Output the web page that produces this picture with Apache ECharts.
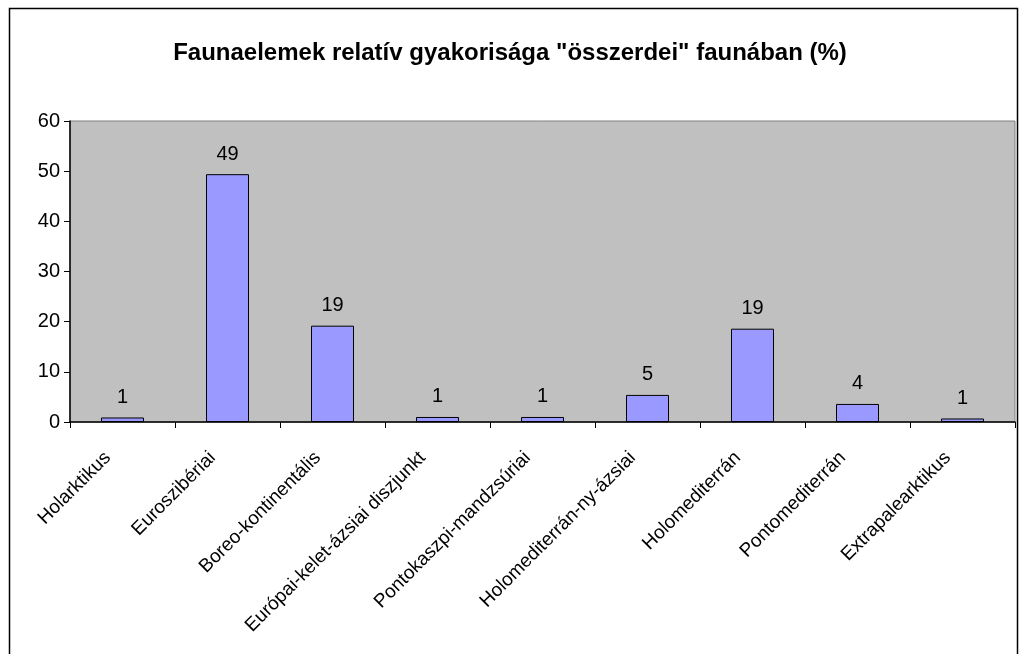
<!DOCTYPE html>
<html><head><meta charset="utf-8">
<script src="https://cdn.jsdelivr.net/npm/echarts@6/dist/echarts.min.js"></script>
<style>html,body{margin:0;padding:0;background:#fff}#c{width:1020px;height:654px}</style>
</head><body><div id="c"></div>
<script>
const titleText = 'Faunaelemek relatív gyakorisága "összerdei" faunában (%)';
const categories = ['Holarktikus','Euroszibériai','Boreo-kontinentális','Európai-kelet-ázsiai diszjunkt','Pontokaszpi-mandzsúriai','Holomediterrán-ny-ázsiai','Holomediterrán','Pontomediterrán','Extrapalearktikus'];
const values = [0.9, 49.4, 19.2, 1.0, 1.0, 5.4, 18.6, 3.6, 0.7];
const yTicks = [0, 10, 20, 30, 40, 50, 60];

const font = '"Liberation Sans", Arial, sans-serif';
const chart = echarts.init(document.getElementById('c'), null, {renderer:'canvas'});
chart.setOption({
  animation:false,
  backgroundColor:'#fff',
  title:{text:titleText,left:'center',top:36,textStyle:{fontFamily:font,fontWeight:'bold',fontSize:24,color:'#000'}},
  graphic:[{type:'rect',shape:{x:9.5,y:8.5,width:1008,height:660},style:{fill:null,stroke:'#000',lineWidth:1.5},silent:true}],
  grid:{left:70,right:5,top:121,bottom:232,show:true,backgroundColor:'#C0C0C0',borderColor:'#808080',borderWidth:1},
  xAxis:{type:'category',data:categories,boundaryGap:true,
    axisLine:{lineStyle:{color:'#000',width:1.5}},
    axisTick:{show:true,inside:false,length:6,alignWithLabel:false,lineStyle:{color:'#000'}},
    axisLabel:{rotate:45,interval:0,fontFamily:font,fontSize:19,color:'#000',margin:18,padding:[0,21,0,0]}},
  yAxis:{type:'value',min:yTicks[0],max:yTicks[yTicks.length-1],interval:10,
    axisLine:{show:true,lineStyle:{color:'#000',width:1.5}},
    axisTick:{show:true,length:6,lineStyle:{color:'#000'}},
    splitLine:{show:false},
    axisLabel:{fontFamily:font,fontSize:20,color:'#000',margin:10}},
  series:[{type:'bar',data:values,barWidth:43,
    itemStyle:{color:'#9999FF',borderColor:'#000',borderWidth:1},
    label:{show:true,position:'top',distance:10,fontFamily:font,fontSize:20,color:'#000',formatter:p=>Math.round(p.value)}}]
});
</script></body></html>
